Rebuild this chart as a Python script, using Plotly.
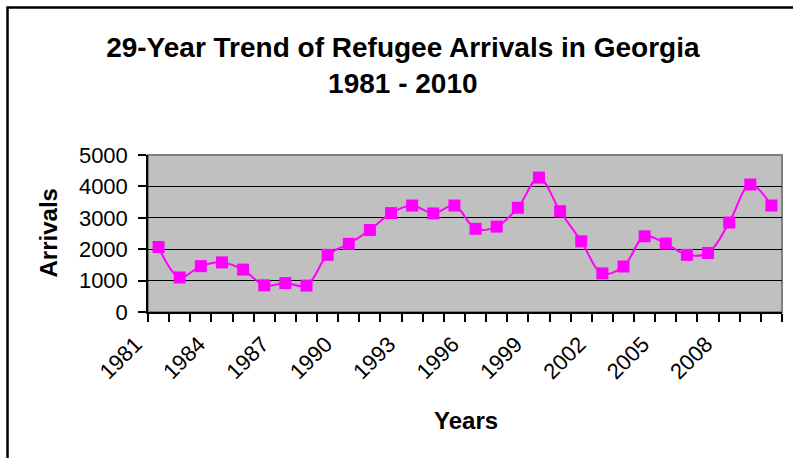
import plotly.graph_objects as go

years = list(range(1981, 2011))
arrivals = [2070, 1100, 1460, 1580, 1350, 850, 920, 840, 1820, 2170,
            2610, 3150, 3390, 3140, 3390, 2650, 2720, 3320, 4280, 3210,
            2250, 1230, 1450, 2410, 2180, 1820, 1880, 2850, 4060, 3390]
tick_years = list(range(1981, 2010, 3))
tick_labels = [str(y) for y in tick_years]
y_ticks = [0, 1000, 2000, 3000, 4000, 5000]

FONT = "Liberation Sans"
MAG = "#FF00FF"

fig = go.Figure()
fig.add_trace(go.Scatter(
    x=years, y=arrivals, mode="lines+markers",
    line=dict(color=MAG, width=2, shape="spline", smoothing=1.0),
    marker=dict(symbol="square", size=12, color=MAG, line=dict(color=MAG, width=0)),
    showlegend=False,
))

# plot-area border (gray, top/right) and outer chart border
fig.add_shape(type="rect", xref="paper", yref="paper", x0=0, x1=1, y0=0, y1=1,
              line=dict(color="#808080", width=2), layer="below")
fig.add_shape(type="rect", xref="paper", yref="paper", x0=-0.2216, x1=1.2,
              y0=-1.5, y1=1.9395, line=dict(color="black", width=2.5))

fig.update_layout(
    width=793, height=458,
    margin=dict(l=148, r=11, t=155, b=146),
    paper_bgcolor="white", plot_bgcolor="#C0C0C0",
    font=dict(family=FONT, color="black", size=22),
    title=dict(text="<b>29-Year Trend of Refugee Arrivals in Georgia<br>1981 - 2010</b>",
               x=0.508, xanchor="center", y=0.876, yanchor="middle",
               yref="container", font=dict(family=FONT, size=28, color="black")),
    xaxis=dict(range=[1980.5, 2010.5], tickmode="array", tickvals=tick_years,
               ticktext=tick_labels, tickangle=-45, ticks="", showgrid=False,
               zeroline=False, showline=True, linecolor="black", linewidth=1.5,
               ticklabelshift=-23, ticklabelstandoff=9,
               tickfont=dict(family=FONT, size=22, color="black"),
               minor=dict(ticks="outside", tick0=1980.5, dtick=1, ticklen=8,
                          tickcolor="black", tickwidth=1.5, showgrid=False)),
    yaxis=dict(range=[0, 5000], tickmode="array", tickvals=y_ticks,
               ticks="outside", ticklen=8, tickcolor="black", tickwidth=1.5,
               ticklabelstandoff=6,
               showgrid=True, gridcolor="black", gridwidth=1.2, zeroline=False,
               showline=True, linecolor="black", linewidth=1.5,
               tickfont=dict(family=FONT, size=22, color="black")),
    annotations=[
        dict(text="<b>Arrivals</b>", xref="paper", yref="paper", x=-0.157, y=0.503,
             xanchor="center", yanchor="middle", textangle=-90, showarrow=False,
             font=dict(family=FONT, size=24, color="black")),
        dict(text="<b>Years</b>", xref="paper", yref="paper", x=0.5016, y=-0.688,
             xanchor="center", yanchor="middle", showarrow=False,
             font=dict(family=FONT, size=24, color="black")),
    ],
)

fig.write_html("out.html", config={"displayModeBar": False},
               post_script="document.body.style.margin='0';")
